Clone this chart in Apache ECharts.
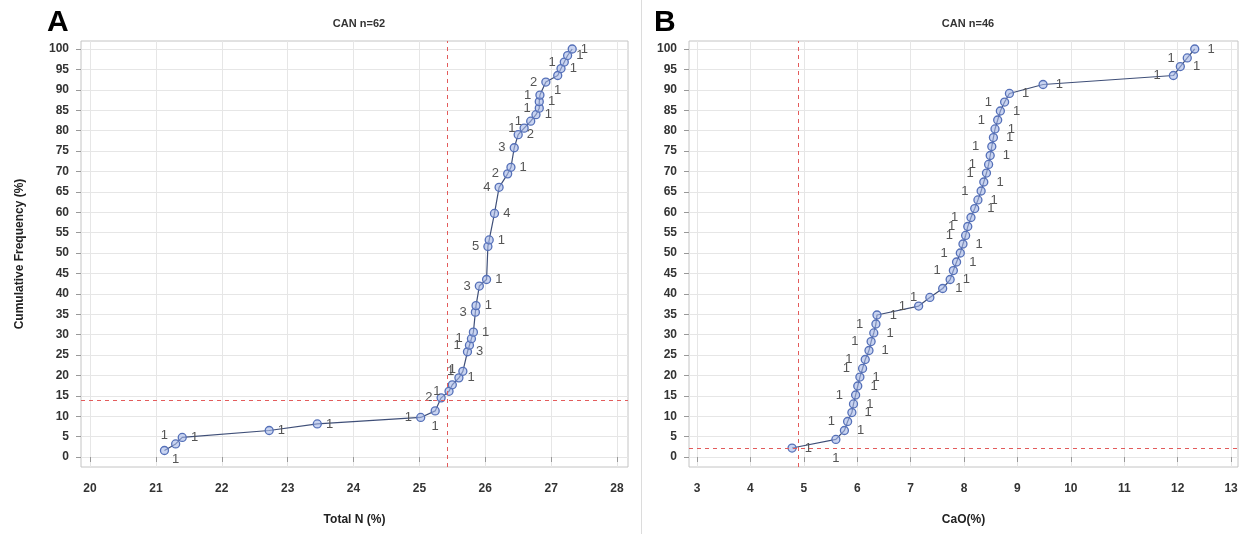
<!DOCTYPE html>
<html><head><meta charset="utf-8">
<script src="https://cdn.jsdelivr.net/npm/echarts@6/dist/echarts.min.js"></script>
<style>html,body{margin:0;padding:0;background:#fff}#c{width:1244px;height:534px}</style>
</head><body><div id="c"></div>
<script>
// ---------- Data ----------
// Panel A: CAN n=62, Total N (%)
const totalN = [21.13, 21.30, 21.40, 22.72, 23.45, 25.02, 25.24, 25.33, 25.45, 25.50, 25.60, 25.66, 25.73, 25.76, 25.79, 25.82, 25.85, 25.86, 25.91, 26.02, 26.04, 26.06, 26.14, 26.21, 26.34, 26.39, 26.44, 26.50, 26.59, 26.69, 26.77, 26.82, 26.82, 26.83, 26.92, 27.10, 27.15, 27.20, 27.25, 27.32];
const cumFreqA = [1.6, 3.2, 4.8, 6.5, 8.1, 9.7, 11.3, 14.5, 16.1, 17.7, 19.4, 21.0, 25.8, 27.4, 29.0, 30.6, 35.5, 37.1, 41.9, 43.5, 51.6, 53.2, 59.7, 66.1, 69.4, 71.0, 75.8, 79.0, 80.6, 82.3, 83.9, 85.5, 87.1, 88.7, 91.9, 93.5, 95.2, 96.8, 98.4, 100];
const countsA = [1, 1, 1, 1, 1, 1, 1, 2, 1, 1, 1, 1, 3, 1, 1, 1, 3, 1, 3, 1, 5, 1, 4, 4, 2, 1, 3, 2, 1, 1, 1, 1, 1, 1, 2, 1, 1, 1, 1, 1];
const refXA = 25.42;
const refYA = 14;

// Panel B: CAN n=46, CaO (%)
const cao = [4.78, 5.60, 5.76, 5.82, 5.90, 5.93, 5.97, 6.01, 6.05, 6.10, 6.15, 6.22, 6.26, 6.31, 6.35, 6.37, 7.15, 7.36, 7.60, 7.74, 7.80, 7.86, 7.93, 7.98, 8.03, 8.07, 8.13, 8.20, 8.26, 8.32, 8.37, 8.42, 8.46, 8.49, 8.52, 8.55, 8.58, 8.63, 8.68, 8.76, 8.85, 9.48, 11.92, 12.05, 12.18, 12.32];
const cumFreqB = [2.2, 4.3, 6.5, 8.7, 10.9, 13.0, 15.2, 17.4, 19.6, 21.7, 23.9, 26.1, 28.3, 30.4, 32.6, 34.8, 37.0, 39.1, 41.3, 43.5, 45.7, 47.8, 50.0, 52.2, 54.3, 56.5, 58.7, 60.9, 63.0, 65.2, 67.4, 69.6, 71.7, 73.9, 76.1, 78.3, 80.4, 82.6, 84.8, 87.0, 89.1, 91.3, 93.5, 95.7, 97.8, 100];
const countsB = [1, 1, 1, 1, 1, 1, 1, 1, 1, 1, 1, 1, 1, 1, 1, 1, 1, 1, 1, 1, 1, 1, 1, 1, 1, 1, 1, 1, 1, 1, 1, 1, 1, 1, 1, 1, 1, 1, 1, 1, 1, 1, 1, 1, 1, 1];
const refXB = 4.9;
const refYB = 2.2;

// Tick labels
const xTicksA = [20, 21, 22, 23, 24, 25, 26, 27, 28];
const xTicksB = [3, 4, 5, 6, 7, 8, 9, 10, 11, 12, 13];
const yTicks = [0, 5, 10, 15, 20, 25, 30, 35, 40, 45, 50, 55, 60, 65, 70, 75, 80, 85, 90, 95, 100];

// ---------- Styling (label placement codes) ----------
const labelSideA = ['T','B','TR','TR','TR','BL','B','L','L','T','R','L','R','L','L','R','L','R','L','R','L','R','R','L','L','R','L','R','L','L','R','L','R','L','L','B','R','L','RR','R'];
const labelSideB = ['TR','B','R','L','R','RR','L','R','RR','L','LL','R','L','R','L','R','BL','L','R','R','L','RR','L','R','L','LL','L','R','R','L','RR','LL','L','R','L','RR','R','L','R','L','R','TR','BL','RR','L','RR'];

const FONT = 'Liberation Sans, Arial, sans-serif';
function sideMap(code, far) {
  const m = {
    T: {position: 'top', offset: [0, 0]},
    B: {position: 'bottom', offset: [0, 0]},
    L: {position: 'left', offset: [0, 0]},
    LL: {position: 'left', offset: [-far, 0]},
    R: {position: 'right', offset: [0, 0]},
    RR: {position: 'right', offset: [far, 0]},
    TR: {position: 'right', offset: [0, -9]},
    BL: {position: 'left', offset: [0, 9]}
  };
  return m[code] || m.R;
}

function buildData(xs, ys, counts, sides, far) {
  return xs.map((x, i) => {
    const s = sideMap(sides[i], far);
    return {
      value: [x, ys[i]],
      label: {show: true, formatter: String(counts[i]), position: s.position, offset: s.offset}
    };
  });
}

const chart = echarts.init(document.getElementById('c'), null, {renderer: 'canvas'});

function xAxisCfg(gi, min, max, ticks, name) {
  return {
    gridIndex: gi, type: 'value', min: min, max: max,
    name: name, nameLocation: 'middle', nameGap: 47,
    nameTextStyle: {fontFamily: FONT, fontSize: 12, fontWeight: 'bold', color: '#222'},
    axisLine: {show: false},
    axisTick: {show: true, inside: false, length: 5, lineStyle: {color: '#999'}, customValues: ticks},
    axisLabel: {customValues: ticks, margin: 16, fontFamily: FONT, fontSize: 12, fontWeight: 'bold', color: '#333'},
    splitLine: {show: true, lineStyle: {color: '#e6e6e6', width: 1}}
  };
}
function yAxisCfg(gi, name) {
  return {
    gridIndex: gi, type: 'value', min: -2.45, max: 101.96,
    name: name, nameLocation: 'middle', nameGap: 55,
    nameTextStyle: {fontFamily: FONT, fontSize: 12, fontWeight: 'bold', color: '#222'},
    axisLine: {show: false},
    axisTick: {show: true, inside: false, length: 5, lineStyle: {color: '#999'}, customValues: yTicks},
    axisLabel: {customValues: yTicks, margin: 12, fontFamily: FONT, fontSize: 12, fontWeight: 'bold', color: '#333'},
    splitLine: {show: true, lineStyle: {color: '#e6e6e6', width: 1}}
  };
}

function seriesCfg(gi, data, rx, ry, dist) {
  return {
    type: 'line', xAxisIndex: gi, yAxisIndex: gi, data: data,
    symbol: 'circle', symbolSize: 8, showAllSymbol: true,
    lineStyle: {color: '#3f4f78', width: 1.2},
    itemStyle: {color: 'rgba(165,184,232,0.6)', borderColor: '#5570b8', borderWidth: 1.3},
    label: {fontFamily: FONT, fontSize: 13, color: '#555', distance: dist},
    labelLayout: {hideOverlap: false},
    emphasis: {disabled: true},
    animation: false,
    z: 3,
    markLine: {
      silent: true, symbol: ['none', 'none'], animation: false,
      label: {show: false},
      lineStyle: {color: '#e35b5b', type: [4, 4], width: 1},
      data: [{xAxis: rx}, {yAxis: ry}]
    }
  };
}

const option = {
  backgroundColor: '#fff',
  animation: false,
  title: [
    {text: 'CAN n=62', left: 354, top: 13, textAlign: 'center',
     textStyle: {fontFamily: FONT, fontSize: 11, fontWeight: 'bold', color: '#333'}},
    {text: 'CAN n=46', left: 963, top: 13, textAlign: 'center',
     textStyle: {fontFamily: FONT, fontSize: 11, fontWeight: 'bold', color: '#333'}}
  ],
  grid: [
    {left: 81, top: 41, width: 547, height: 426, show: true, borderColor: '#c4c4c4', borderWidth: 1, backgroundColor: 'transparent'},
    {left: 689, top: 41, width: 549, height: 426, show: true, borderColor: '#c4c4c4', borderWidth: 1, backgroundColor: 'transparent'}
  ],
  xAxis: [
    xAxisCfg(0, 19.863, 28.167, xTicksA, 'Total N (%)'),
    xAxisCfg(1, 2.85, 13.13, xTicksB, 'CaO(%)')
  ],
  yAxis: [
    yAxisCfg(0, 'Cumulative Frequency (%)'),
    yAxisCfg(1, '')
  ],
  graphic: [
    {type: 'line', shape: {x1: 641.5, y1: 0, x2: 641.5, y2: 534}, style: {stroke: '#dcdcdc', lineWidth: 1}, silent: true},
    {type: 'text', left: 47, top: 8, style: {text: 'A', fontFamily: FONT, fontSize: 30, fontWeight: 'bold', fill: '#000'}},
    {type: 'text', left: 654, top: 8, style: {text: 'B', fontFamily: FONT, fontSize: 30, fontWeight: 'bold', fill: '#000'}}
  ],
  series: [
    seriesCfg(0, buildData(totalN, cumFreqA, countsA, labelSideA, 16), refXA, refYA, 4),
    seriesCfg(1, buildData(cao, cumFreqB, countsB, labelSideB, 20), refXB, refYB, 8)
  ]
};
chart.setOption(option);
</script></body></html>
